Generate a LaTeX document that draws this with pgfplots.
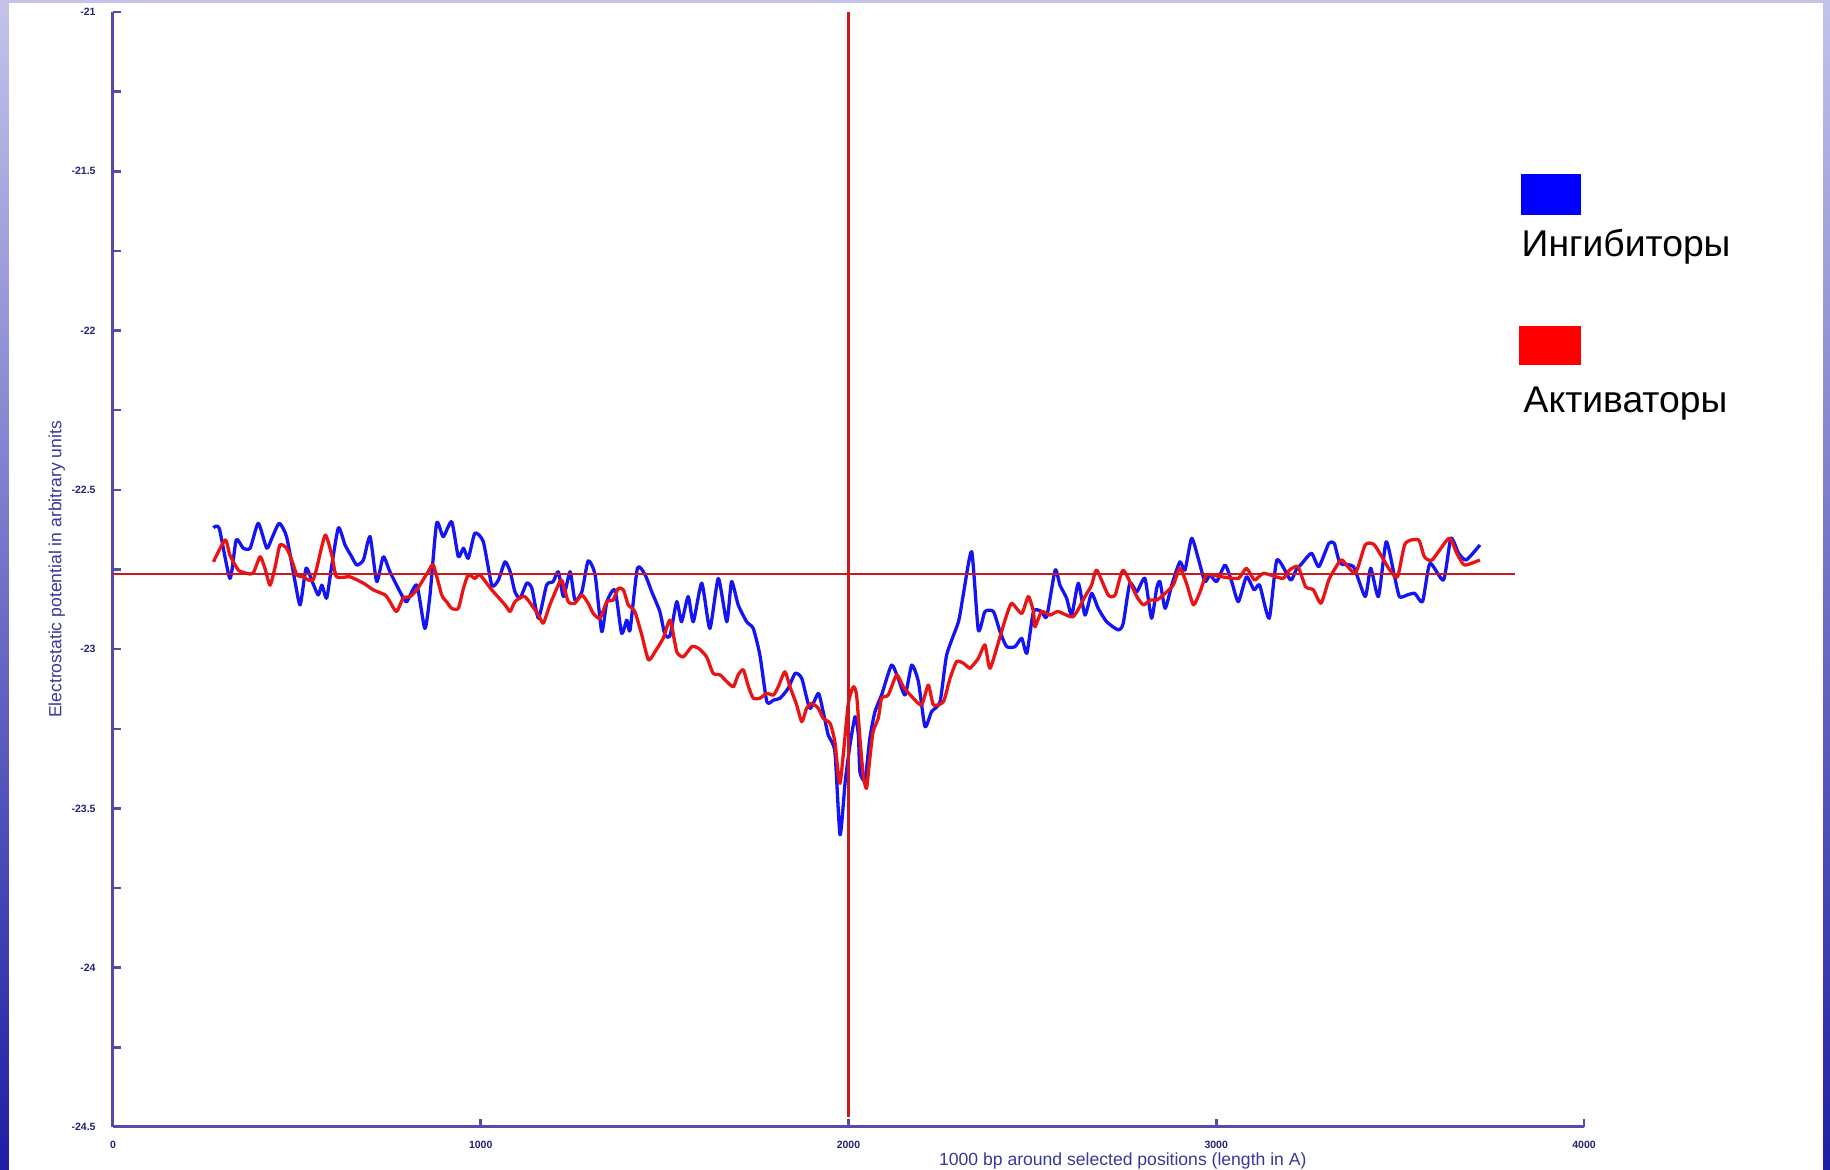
\documentclass[border=0pt]{standalone}
\usepackage{fontspec}
\setmainfont{Liberation Sans}
\usepackage{pgfplots}
\pgfplotsset{compat=1.18}
\definecolor{axcol}{RGB}{85,75,170}
\definecolor{tickcol}{RGB}{35,35,120}
\definecolor{labcol}{RGB}{55,55,160}
\definecolor{curveblue}{RGB}{20,20,245}
\definecolor{curvered}{RGB}{235,20,20}
\definecolor{linered}{RGB}{205,25,30}
\definecolor{stripetop}{RGB}{195,195,235}
\definecolor{stripebot}{RGB}{30,30,165}
\begin{document}
\begin{tikzpicture}[x=1mm,y=1mm]
\path[use as bounding box] (0,0) rectangle (183,116.9);
\shade[top color=stripetop, bottom color=stripebot] (0,0) rectangle (0.9,116.9);
\shade[top color=stripetop, bottom color=stripebot] (182.3,0) rectangle (183,116.9);
\fill[stripetop] (0,116.6) rectangle (183,116.9);
\begin{axis}[
  at={(11.3mm,4.2mm)}, anchor=south west,
  width=147.1mm, height=111.5mm, scale only axis,
  xmin=0, xmax=4000, ymin=-24.5, ymax=-21,
  axis x line*=bottom, axis y line*=left,
  axis line style={axcol, line width=0.3mm, -},
  xtick={0,1000,2000,3000,4000},
  xticklabels={0,1000,2000,3000,4000},
  ytick={-24.5,-24,-23.5,-23,-22.5,-22,-21.5,-21},
  yticklabels={-24.5,-24,-23.5,-23,-22.5,-22,-21.5,-21},
  minor ytick={-24.25,-23.75,-23.25,-22.75,-22.25,-21.75,-21.25},
  tick align=inside,
  major tick length=0.8mm, minor tick length=0.8mm,
  tick style={axcol, line width=0.25mm},
  ticklabel style={font=\fontsize{3pt}{3.4pt}\selectfont\bfseries, text=tickcol},
  yticklabel style={xshift=-0.5mm},
  xticklabel style={yshift=-0.2mm},
  xlabel={1000 bp around selected positions (length in A)},
  ylabel={Electrostatic potential in arbitrary units},
  label style={font=\fontsize{5pt}{6pt}\selectfont, text=labcol},
  xlabel style={at={(axis description cs:0.6865,0)}, yshift=-3.4mm, anchor=center},
  ylabel style={at={(axis description cs:-0.0381,0.5)}, anchor=center},
  clip=false,
  line join=round,
]
\addplot[curveblue, line width=0.33mm, smooth, tension=0.35] coordinates {
(273,-22.619) (289,-22.621) (318,-22.778) (335,-22.657) (354,-22.683) (373,-22.683) (395,-22.605) (418,-22.683) (432,-22.652) (452,-22.605) (472,-22.647) (495,-22.788) (509,-22.861) (525,-22.746) (540,-22.783) (558,-22.830) (568,-22.799) (581,-22.840) (595,-22.736) (613,-22.619) (631,-22.673) (649,-22.710) (663,-22.736) (681,-22.720) (699,-22.647) (717,-22.788) (735,-22.710) (753,-22.757) (785,-22.830) (799,-22.851) (826,-22.799) (848,-22.935) (862,-22.830) (880,-22.605) (898,-22.647) (921,-22.600) (939,-22.710) (953,-22.683) (966,-22.715) (984,-22.636) (1007,-22.663) (1030,-22.799) (1048,-22.783) (1066,-22.726) (1080,-22.757) (1093,-22.820) (1107,-22.840) (1125,-22.793) (1139,-22.809) (1157,-22.903) (1179,-22.799) (1197,-22.788) (1211,-22.757) (1225,-22.835) (1243,-22.757) (1256,-22.846) (1275,-22.820) (1292,-22.723) (1311,-22.767) (1329,-22.945) (1343,-22.851) (1365,-22.814) (1383,-22.950) (1397,-22.909) (1406,-22.940) (1426,-22.746) (1447,-22.767) (1465,-22.820) (1487,-22.882) (1501,-22.956) (1515,-22.956) (1533,-22.851) (1546,-22.914) (1564,-22.835) (1578,-22.914) (1601,-22.793) (1623,-22.935) (1646,-22.778) (1669,-22.914) (1682,-22.788) (1700,-22.861) (1723,-22.914) (1741,-22.935) (1759,-23.018) (1778,-23.165) (1796,-23.160) (1814,-23.154) (1836,-23.123) (1855,-23.076) (1873,-23.092) (1895,-23.186) (1918,-23.139) (1931,-23.196) (1945,-23.270) (1963,-23.322) (1977,-23.583) (1991,-23.416) (2004,-23.301) (2018,-23.212) (2027,-23.270) (2031,-23.385) (2045,-23.411) (2058,-23.280) (2072,-23.196) (2090,-23.144) (2117,-23.050) (2135,-23.092) (2154,-23.144) (2172,-23.050) (2190,-23.102) (2208,-23.243) (2226,-23.196) (2249,-23.165) (2267,-23.018) (2299,-22.914) (2312,-22.830) (2335,-22.694) (2353,-22.940) (2371,-22.882) (2394,-22.882) (2412,-22.945) (2430,-22.992) (2453,-22.992) (2471,-22.966) (2485,-23.013) (2503,-22.882) (2525,-22.882) (2539,-22.898) (2562,-22.752) (2575,-22.799) (2593,-22.840) (2607,-22.893) (2625,-22.793) (2643,-22.893) (2661,-22.825) (2679,-22.872) (2702,-22.914) (2734,-22.940) (2747,-22.919) (2765,-22.793) (2784,-22.820) (2806,-22.778) (2824,-22.903) (2838,-22.809) (2847,-22.788) (2861,-22.872) (2879,-22.799) (2901,-22.726) (2915,-22.752) (2933,-22.652) (2951,-22.715) (2969,-22.788) (2983,-22.767) (3001,-22.788) (3024,-22.736) (3042,-22.788) (3060,-22.851) (3082,-22.773) (3103,-22.814) (3118,-22.799) (3144,-22.903) (3165,-22.720) (3202,-22.783) (3217,-22.752) (3233,-22.731) (3259,-22.699) (3279,-22.741) (3306,-22.668) (3321,-22.668) (3337,-22.731) (3373,-22.741) (3405,-22.835) (3420,-22.746) (3441,-22.835) (3462,-22.663) (3483,-22.762) (3498,-22.835) (3519,-22.830) (3540,-22.825) (3561,-22.851) (3581,-22.731) (3618,-22.783) (3638,-22.652) (3659,-22.699) (3680,-22.720) (3717,-22.673)
};
\addplot[curvered, line width=0.33mm, smooth, tension=0.35] coordinates {
(273,-22.726) (305,-22.657) (318,-22.705) (341,-22.752) (364,-22.762) (381,-22.762) (400,-22.710) (413,-22.746) (427,-22.799) (441,-22.741) (454,-22.673) (472,-22.683) (486,-22.720) (500,-22.767) (517,-22.773) (531,-22.783) (544,-22.783) (554,-22.746) (577,-22.642) (595,-22.705) (608,-22.773) (644,-22.773) (681,-22.793) (708,-22.814) (740,-22.830) (753,-22.851) (771,-22.882) (789,-22.840) (808,-22.835) (826,-22.814) (857,-22.757) (871,-22.736) (894,-22.830) (907,-22.851) (921,-22.872) (939,-22.872) (953,-22.809) (966,-22.767) (984,-22.778) (998,-22.767) (1030,-22.814) (1066,-22.861) (1080,-22.882) (1093,-22.851) (1120,-22.835) (1157,-22.893) (1170,-22.919) (1188,-22.861) (1207,-22.809) (1220,-22.783) (1238,-22.851) (1256,-22.856) (1275,-22.830) (1292,-22.856) (1306,-22.888) (1324,-22.903) (1343,-22.851) (1360,-22.846) (1374,-22.809) (1388,-22.814) (1401,-22.861) (1419,-22.882) (1438,-22.956) (1456,-23.034) (1474,-23.008) (1496,-22.966) (1515,-22.909) (1533,-23.008) (1551,-23.024) (1574,-22.992) (1592,-22.997) (1614,-23.024) (1632,-23.076) (1651,-23.081) (1669,-23.102) (1687,-23.118) (1700,-23.081) (1714,-23.065) (1728,-23.118) (1741,-23.154) (1759,-23.154) (1778,-23.139) (1796,-23.144) (1809,-23.118) (1827,-23.071) (1841,-23.118) (1859,-23.175) (1873,-23.228) (1886,-23.186) (1900,-23.170) (1918,-23.186) (1931,-23.217) (1950,-23.233) (1963,-23.291) (1977,-23.421) (1999,-23.175) (2013,-23.118) (2022,-23.144) (2031,-23.280) (2040,-23.395) (2049,-23.437) (2058,-23.343) (2067,-23.259) (2081,-23.217) (2090,-23.154) (2108,-23.144) (2131,-23.081) (2149,-23.118) (2176,-23.154) (2199,-23.175) (2217,-23.113) (2231,-23.175) (2258,-23.165) (2276,-23.092) (2294,-23.039) (2312,-23.044) (2329,-23.060) (2335,-23.055) (2353,-23.029) (2371,-22.987) (2385,-23.060) (2412,-22.961) (2430,-22.893) (2444,-22.856) (2471,-22.888) (2489,-22.835) (2503,-22.882) (2507,-22.930) (2525,-22.882) (2548,-22.893) (2570,-22.882) (2611,-22.898) (2643,-22.835) (2661,-22.799) (2675,-22.752) (2706,-22.830) (2725,-22.830) (2747,-22.752) (2784,-22.835) (2802,-22.861) (2820,-22.846) (2838,-22.846) (2856,-22.830) (2883,-22.799) (2901,-22.746) (2919,-22.793) (2938,-22.861) (2956,-22.820) (2974,-22.767) (3015,-22.773) (3060,-22.778) (3082,-22.746) (3104,-22.783) (3129,-22.762) (3181,-22.778) (3199,-22.752) (3222,-22.741) (3243,-22.804) (3264,-22.814) (3285,-22.856) (3306,-22.783) (3326,-22.741) (3342,-22.720) (3378,-22.762) (3405,-22.673) (3430,-22.673) (3472,-22.752) (3493,-22.773) (3514,-22.668) (3550,-22.657) (3566,-22.710) (3587,-22.720) (3633,-22.652) (3654,-22.699) (3675,-22.736) (3717,-22.720)
};
\addplot[linered, line width=0.28mm] coordinates {(0,-22.764) (3812,-22.764)};
\addplot[linered, line width=0.3mm] coordinates {(2000,-21) (2000,-24.47)};
\end{axis}
\fill[blue] (152.1,95.4) rectangle (158.1,99.5);
\fill[red] (151.9,80.4) rectangle (158.1,84.3);
\node[anchor=base west, inner sep=0, font=\fontsize{10.6pt}{12pt}\selectfont] at (152.1,91.23) {Ингибиторы};
\node[anchor=base west, inner sep=0, font=\fontsize{10.6pt}{12pt}\selectfont] at (152.3,75.63) {Активаторы};
\end{tikzpicture}
\end{document}
